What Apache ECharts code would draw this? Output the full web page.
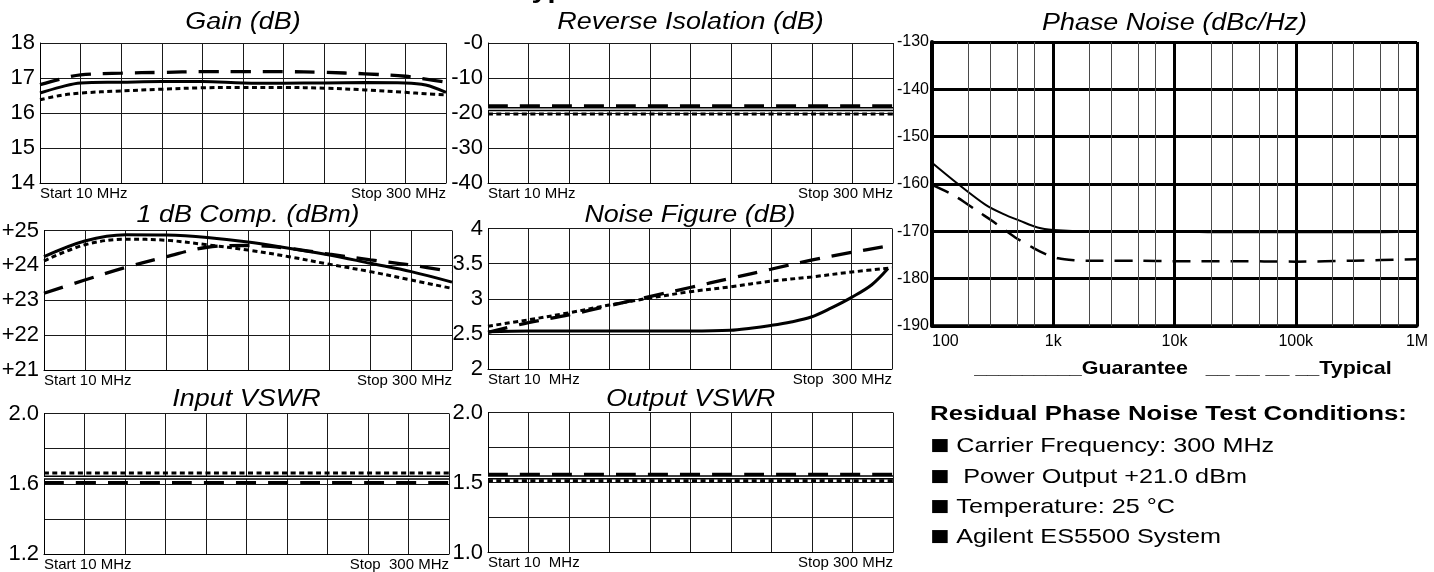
<!DOCTYPE html>
<html><head><meta charset="utf-8">
<script src="https://cdn.jsdelivr.net/npm/echarts@6/dist/echarts.min.js"></script>
<style>html,body{margin:0;padding:0;background:#fff}#c{width:1434px;height:572px}</style>
</head><body><div id="c"></div>
<script>
const FONT = '"Liberation Sans", Arial, Helvetica, sans-serif';

// ---------- data (x = graticule division, 0 = Start 10 MHz, 10 = Stop 300 MHz) ----------
const divX = [0,1,2,3,4,5,6,7,8,9,10];

const gainX     = [0,0.5,1,2,3,4,5,6,7,8,9,9.5,10];
const gainSolid = [16.57,16.74,16.86,16.88,16.9,16.9,16.86,16.85,16.86,16.87,16.86,16.8,16.59];
const gainLong  = [16.81,16.97,17.09,17.14,17.16,17.18,17.18,17.18,17.16,17.12,17.05,16.97,16.88];
const gainShort = [16.38,16.5,16.57,16.63,16.68,16.72,16.73,16.73,16.71,16.66,16.59,16.55,16.52];

const isoX     = [0,10];
const isoSolid = [-18.9,-18.9];
const isoLong  = [-18.0,-18.0];
const isoShort = [-20.3,-20.3];

const compSolid = [24.25,24.7,24.88,24.87,24.8,24.67,24.49,24.3,24.06,23.82,23.52];
const compShort = [24.13,24.59,24.75,24.72,24.59,24.44,24.25,24.03,23.82,23.58,23.34];
const compLong  = [23.2,23.58,23.94,24.25,24.52,24.57,24.49,24.32,24.16,24.01,23.82];

const nfSolidX = [0,1,2,3,4,5,6,6.5,7,7.5,8,8.5,9,9.5,9.9];
const nfSolid  = [2.53,2.54,2.54,2.54,2.54,2.54,2.55,2.58,2.62,2.67,2.74,2.87,3.02,3.2,3.43];
const nfLong   = [2.52,2.66,2.77,2.9,3.03,3.16,3.29,3.42,3.55,3.66,3.76];
const nfShort  = [2.61,2.7,2.8,2.91,3.01,3.1,3.17,3.25,3.31,3.38,3.44];

const vswrX      = [0,10];
const inSolid    = [1.635,1.635];
const inLong     = [1.606,1.606];
const inShort    = [1.661,1.661];
const outSolid   = [1.536,1.536];
const outLong    = [1.557,1.557];
const outShort   = [1.512,1.512];

// phase noise (offset frequency Hz, dBc/Hz)
const pnGuarF = [100,164,277,385,535,743,1000,2000,5000,10000,20000,50000,100000,300000,1000000];
const pnGuar  = [-155.5,-160,-164.4,-166.3,-167.8,-169.2,-169.7,-170,-170,-170,-170.2,-170.2,-170.2,-170.2,-170.1];
const pnTypF  = [100,144,187,243,306,398,501,674,848,1100,1500,2000,5000,10000,30000,100000,300000,1000000];
const pnTyp   = [-160.2,-162.1,-163.9,-165.9,-167.6,-169.7,-171.5,-173.4,-174.7,-175.7,-176.1,-176.2,-176.2,-176.3,-176.3,-176.4,-176.2,-175.9];
const pnMinorF = [200,300,500,700,2000,3000,5000,7000,20000,30000,50000,70000,200000,300000,500000,700000];

// tick labels
const gainTickV = [18,17,16,15,14],        gainTickL = ['18','17','16','15','14'];
const isoTickV  = [0,-10,-20,-30,-40],     isoTickL  = ['-0','-10','-20','-30','-40'];
const compTickV = [25,24,23,22,21],        compTickL = ['+25','+24','+23','+22','+21'];
const nfTickV   = [4,3.5,3,2.5,2],         nfTickL   = ['4','3.5','3','2.5','2'];
const inTickV   = [2.0,1.6,1.2],           inTickL   = ['2.0','1.6','1.2'];
const outTickV  = [2.0,1.5,1.0],           outTickL  = ['2.0','1.5','1.0'];
const pnYTickV  = [-130,-140,-150,-160,-170,-180,-190];
const pnYTickL  = ['-130','-140','-150','-160','-170','-180','-190'];
const pnXTickV  = [100,1000,10000,100000,1000000];
const pnXTickL  = ['100','1k','10k','100k','1M'];

// ---------- layout ----------
const grids = [
  {left:40,  top:43,   width:406, height:140},   // gain
  {left:488, top:43,   width:405, height:140},   // reverse isolation
  {left:44,  top:230.5,width:408, height:139.5}, // 1 dB comp
  {left:488, top:228.5,width:404, height:140.5}, // noise figure
  {left:44,  top:413.5,width:405, height:140.5}, // input vswr
  {left:488, top:412.5,width:405, height:140},   // output vswr
  {left:932, top:42,   width:485, height:284}    // phase noise
];

function pairs(xs, ys){ return xs.map((x,i)=>[x, ys[i]]); }
function lab(vals, labels){ return v => { const k = vals.findIndex(t => Math.abs(t - v) < 1e-6); return k < 0 ? '' : labels[k]; }; }

const smallPanels = [
  {min:14,  max:18,  iv:1,   fmt:lab(gainTickV,gainTickL), start:'Start 10 MHz',  stop:'Stop 300 MHz'},
  {min:-40, max:0,   iv:10,  fmt:lab(isoTickV,isoTickL),   start:'Start 10 MHz',  stop:'Stop 300 MHz'},
  {min:21,  max:25,  iv:1,   fmt:lab(compTickV,compTickL), start:'Start 10 MHz',  stop:'Stop 300 MHz'},
  {min:2,   max:4,   iv:0.5, fmt:lab(nfTickV,nfTickL),     start:'Start 10  MHz', stop:'Stop  300 MHz'},
  {min:1.2, max:2.0, iv:0.2, fmt:lab(inTickV,inTickL),     start:'Start 10 MHz',  stop:'Stop  300 MHz'},
  {min:1.0, max:2.0, iv:0.25,fmt:lab(outTickV,outTickL),   start:'Start 10  MHz', stop:'Stop 300 MHz'}
];

const xAxes = [], yAxes = [];
smallPanels.forEach((p,i) => {
  xAxes.push({gridIndex:i, type:'value', min:0, max:10, interval:1,
    axisLine:{show:true, onZero:false, lineStyle:{color:'#000', width:1}},
    axisTick:{show:false},
    splitLine:{show:true, lineStyle:{color:'#1a1a1a', width:1}},
    axisLabel:{show:true, margin:3, fontSize:15, color:'#000', fontFamily:FONT,
      showMinLabel:true, showMaxLabel:true, alignMinLabel:'left', alignMaxLabel:'right',
      formatter: v => v === 0 ? p.start : (v === 10 ? p.stop : '')}
  });
  yAxes.push({gridIndex:i, type:'value', min:p.min, max:p.max, interval:p.iv,
    axisLine:{show:true, onZero:false, lineStyle:{color:'#000', width:1}},
    axisTick:{show:false},
    splitLine:{show:true, lineStyle:{color:'#1a1a1a', width:1}},
    axisLabel:{show:true, margin:5, fontSize:22, color:'#000', fontFamily:FONT, formatter:p.fmt}
  });
});
// phase noise axes
xAxes.push({gridIndex:6, type:'log', logBase:10, min:100, max:1000000,
  axisLine:{show:true, onZero:false, lineStyle:{color:'#000', width:3.5}},
  axisTick:{show:false},
  splitLine:{show:true, lineStyle:{color:'#000', width:3}},
  axisLabel:{margin:8, fontSize:16, color:'#000', fontFamily:FONT, alignMinLabel:'left',
    formatter: lab(pnXTickV, pnXTickL)}
});
yAxes.push({gridIndex:6, type:'value', min:-190, max:-130, interval:10,
  axisLine:{show:true, onZero:false, lineStyle:{color:'#000', width:4}},
  axisTick:{show:false},
  splitLine:{show:true, lineStyle:{color:'#000', width:3}},
  axisLabel:{margin:3, fontSize:16, color:'#000', fontFamily:FONT, formatter: lab(pnYTickV, pnYTickL)}
});

const SOLID = {width:3, type:'solid'};
const LONG  = {width:3.3, type:[20,12]};
const SHORT = {width:3, type:[5,3.5]};

function line(g, xs, ys, st, extra){
  return Object.assign({type:'line', xAxisIndex:g, yAxisIndex:g, data:pairs(xs,ys),
    symbol:'none', showSymbol:false, smooth:0.35, silent:true, animation:false,
    lineStyle:Object.assign({color:'#000', cap:'butt'}, st)}, extra||{});
}
function hollow(g, xs, ys){
  return [line(g, xs, ys, {width:4.2, type:'solid'}),
          line(g, xs, ys, {width:1.3, type:'solid', color:'#fff'})];
}

const series = [
  line(0, gainX, gainLong, LONG), line(0, gainX, gainShort, SHORT), line(0, gainX, gainSolid, SOLID),
  line(1, isoX, isoLong, LONG), line(1, isoX, isoShort, SHORT), ...hollow(1, isoX, isoSolid),
  line(2, divX, compLong, LONG), line(2, divX, compShort, SHORT), line(2, divX, compSolid, SOLID),
  line(3, divX, nfLong, LONG), line(3, divX, nfShort, SHORT), line(3, nfSolidX, nfSolid, SOLID),
  line(4, vswrX, inLong, LONG), line(4, vswrX, inShort, SHORT), ...hollow(4, vswrX, inSolid),
  line(5, vswrX, outLong, LONG), line(5, vswrX, outShort, SHORT), ...hollow(5, vswrX, outSolid),
  line(6, pnGuarF, pnGuar, {width:2, type:'solid'}, {smooth:0.3,
    markLine:{silent:true, symbol:['none','none'], animation:false, label:{show:false},
      lineStyle:{color:'#4a4a4a', width:1, type:'solid'}, emphasis:{disabled:true},
      data: pnMinorF.map(f => ({xAxis:f}))}}),
  line(6, pnTypF, pnTyp, {width:2.5, type:[18,11]}, {smooth:0.3})
];

function txt(x, y, text, o){
  o = o || {};
  const style = {text:text, fill:'#000', fontFamily:FONT, fontSize:o.fs || 20,
      fontWeight:o.fw || 'normal', fontStyle:o.it ? 'italic' : 'normal',
      align:o.align || 'center', verticalAlign:'middle'};
  if (o.rich) style.rich = o.rich;
  return {type:'text', x:x, y:y, scaleX:o.sx || 1, silent:true, z:100, style:style};
}
function cx(g){ return grids[g].left + grids[g].width/2; }
const TT = {fs:24.5, it:true, sx:1.1};
const BUL = {fs:21, sx:1.2, align:'left',
  rich:{b:{fontSize:17, fontFamily:'"DejaVu Sans", sans-serif', fill:'#000', verticalAlign:'middle'},
        t:{fontSize:21, fontFamily:FONT, fill:'#000', verticalAlign:'middle'}}};
const graphics = [
  txt(516, -9, 'Typical Performance', {fs:24, fw:'bold', sx:1.2, align:'left'}),
  txt(cx(0), 22, 'Gain (dB)', TT),
  txt(cx(1), 22, 'Reverse Isolation (dB)', TT),
  txt(cx(2), 215, '1 dB Comp. (dBm)', TT),
  txt(cx(3), 215, 'Noise Figure (dB)', TT),
  txt(cx(4), 399, 'Input VSWR', TT),
  txt(cx(5), 399, 'Output VSWR', TT),
  txt(cx(6), 23, 'Phase Noise (dBc/Hz)', TT),
  txt(1183, 369, '_________Guarantee   __ __ __ __Typical', {fs:19, fw:'bold', sx:1.13}),
  txt(930, 414, 'Residual Phase Noise Test Conditions:', {fs:20, fw:'bold', sx:1.29, align:'left'}),
  txt(930, 446, '{b|\u25A0}{t| Carrier Frequency: 300 MHz}', BUL),
  txt(930, 477, '{b|\u25A0}{t|  Power Output +21.0 dBm}', BUL),
  txt(930, 507, '{b|\u25A0}{t| Temperature: 25 \u00B0C}', BUL),
  txt(930, 537, '{b|\u25A0}{t| Agilent ES5500 System}', BUL)
];

const chart = echarts.init(document.getElementById('c'), null, {renderer:'canvas'});
chart.setOption({
  backgroundColor:'#fff',
  animation:false,
  textStyle:{fontFamily:FONT},
  grid: grids.map(g => Object.assign({containLabel:false, outerBoundsMode:'none'}, g)),
  xAxis: xAxes,
  yAxis: yAxes,
  series: series,
  graphic: graphics
});
</script></body></html>
